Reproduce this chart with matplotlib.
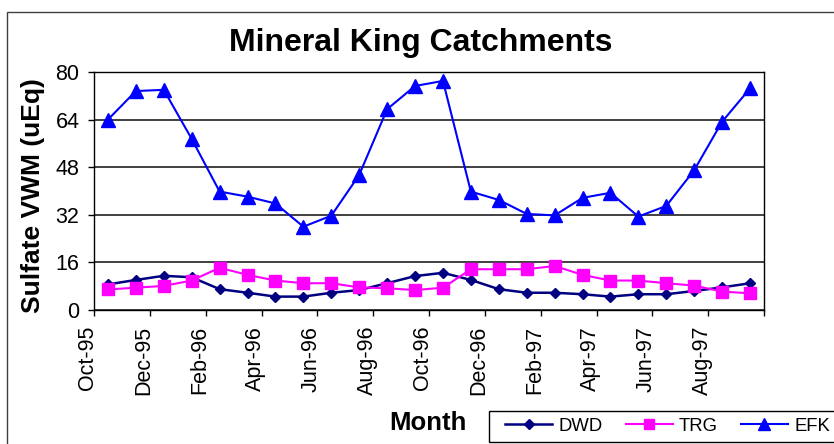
import matplotlib
matplotlib.use("Agg")
import matplotlib.pyplot as plt
import matplotlib.transforms as mtransforms
from matplotlib.patches import Rectangle

plt.rcParams["font.family"] = ["Liberation Sans", "DejaVu Sans"]

# monthly sulfate VWM, Oct-95 .. Sep-97
tick_labels = ["Oct-95", "Dec-95", "Feb-96", "Apr-96", "Jun-96", "Aug-96",
               "Oct-96", "Dec-96", "Feb-97", "Apr-97", "Jun-97", "Aug-97"]
dwd = [8.6, 10.1, 11.5, 11.0, 7.0, 5.8, 4.5, 4.5, 5.8, 6.7, 9.0, 11.4,
       12.5, 10.1, 7.0, 5.8, 5.8, 5.3, 4.5, 5.3, 5.3, 6.4, 7.6, 9.0]
trg = [6.9, 7.5, 8.1, 9.9, 14.2, 11.8, 9.9, 9.0, 9.0, 7.6, 7.3, 6.7,
       7.5, 13.7, 13.7, 13.7, 14.8, 11.8, 9.9, 9.9, 9.0, 8.2, 6.2, 5.6]
efk = [64, 73.6, 74, 57.5, 39.8, 38.1, 35.8, 28, 31.7, 45.4, 67.5, 75.3,
       77, 39.8, 37, 32.3, 31.8, 37.7, 39.4, 31.4, 35, 47, 63.3, 74.5]
y_ticks = [0, 16, 32, 48, 64, 80]

W, H = 834, 444
fig = plt.figure(figsize=(W / 100, H / 100), dpi=100)
ax = fig.add_axes([94 / W, 1 - 310 / H, 670 / W, 238 / H])

x = list(range(len(efk)))
ax.plot(x, dwd, color="#000080", lw=1.8, marker="D", ms=5.5, label="DWD")
ax.plot(x, trg, color="#FF00FF", lw=1.5, marker="s", ms=8.5, label="TRG")
ax.plot(x, efk, color="#0000FF", lw=1.5, marker="^", ms=10.5, label="EFK")

ax.set_xlim(-0.5, len(efk) - 0.5)
ax.set_ylim(0, 80)
ax.set_yticks(y_ticks)
ax.set_xticks([i - 0.5 for i in range(0, len(efk) + 1, 2)])
ax.set_xticklabels(tick_labels + [""], rotation=90, fontsize=15.5)
ax.tick_params(axis="y", labelsize=15.5, pad=6)
ax.tick_params(axis="x", pad=7)
ax.tick_params(direction="out", length=4.5, width=1, color="black")
ax.yaxis.grid(True, color="#202020", lw=1.2)
ax.set_axisbelow(True)
for sp in ax.spines.values():
    sp.set_color("black")
    sp.set_linewidth(1)

# shift rotated month labels a little left of their ticks
shift = mtransforms.ScaledTranslation(-6 / 100, 0, fig.dpi_scale_trans)
for lbl in ax.get_xticklabels():
    lbl.set_transform(lbl.get_transform() + shift)

fig.text(421 / W, 1 - 43 / H, "Mineral King Catchments", fontsize=23,
         fontweight="bold", ha="center", va="center")
fig.text(33 / W, 1 - 196 / H, "Sulfate VWM (uEq)", fontsize=19,
         fontweight="bold", rotation=90, ha="center", va="center")
fig.text(428 / W, 1 - 423 / H, "Month", fontsize=18.5,
         fontweight="bold", ha="center", va="center")

# outer chart border, runs past the right and bottom edges
fig.patches.append(Rectangle((7 / W, -0.1), 2, 1 - 12 / H + 0.1,
                             transform=fig.transFigure, fill=False,
                             edgecolor="#404040", lw=1))
# legend frame
fig.patches.append(Rectangle((489 / W, 1 - 441.7 / H), 400 / W, 31 / H,
                             transform=fig.transFigure, fill=False,
                             edgecolor="black", lw=1))
ax.legend(loc="center left", bbox_to_anchor=(505 / W, 1 - 426 / H),
          bbox_transform=fig.transFigure, ncol=3, frameon=False,
          fontsize=13.3, borderpad=0, borderaxespad=0, handlelength=2.55,
          handletextpad=0.33, columnspacing=1.25, markerscale=0.85)

fig.savefig("out.png", dpi=100)
